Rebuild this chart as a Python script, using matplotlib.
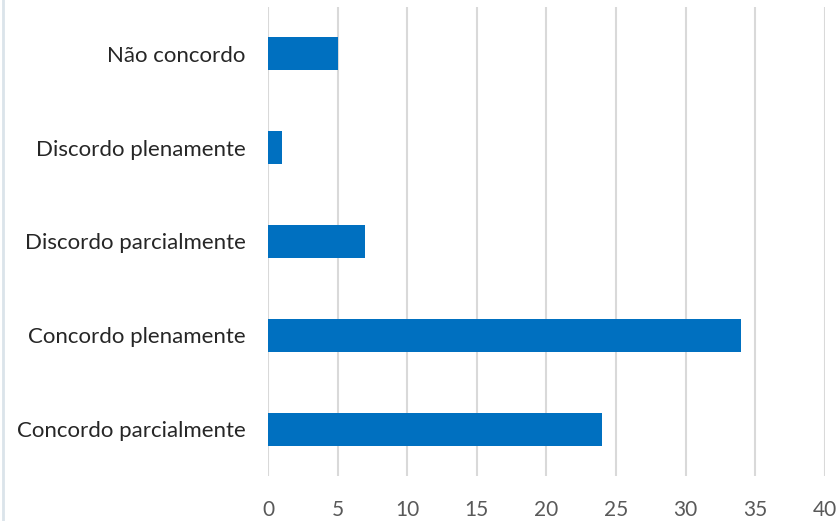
import matplotlib.pyplot as plt
from matplotlib.lines import Line2D

categories = ["Concordo parcialmente", "Concordo plenamente", "Discordo parcialmente",
              "Discordo plenamente", "Não concordo"]
values = [24, 34, 7, 1, 5]
x_ticks = [0, 5, 10, 15, 20, 25, 30, 35, 40]

plt.rcParams['font.family'] = ['Lato', 'DejaVu Sans']

fig = plt.figure(figsize=(8.39, 5.21), dpi=100)
ax = fig.add_axes([0.3194, 0.0864, 0.6639, 0.9002])

ax.barh(range(len(categories)), values, height=0.35, color="#0070C0", zorder=3)

ax.set_xlim(0, 40)
ax.set_ylim(-0.5, len(categories) - 0.5)
ax.set_xticks(x_ticks)
ax.set_xticklabels([str(t) for t in x_ticks], fontsize=15, color="#595959")
ax.set_yticks(range(len(categories)))
ax.set_yticklabels(categories, fontsize=16, color="#262626")
ax.tick_params(axis="both", length=0)
ax.tick_params(axis="x", pad=17)
ax.tick_params(axis="y", pad=16)

ax.grid(axis="x", color="#d9d9d9", linewidth=1.5, zorder=0)
for side in ["top", "right", "bottom", "left"]:
    ax.spines[side].set_visible(False)

# faint frame edge on the left
fig.add_artist(Line2D([0.004, 0.004], [0, 1], transform=fig.transFigure,
                      color="#dbe4ea", linewidth=2))

fig.savefig("out.png", dpi=100)
